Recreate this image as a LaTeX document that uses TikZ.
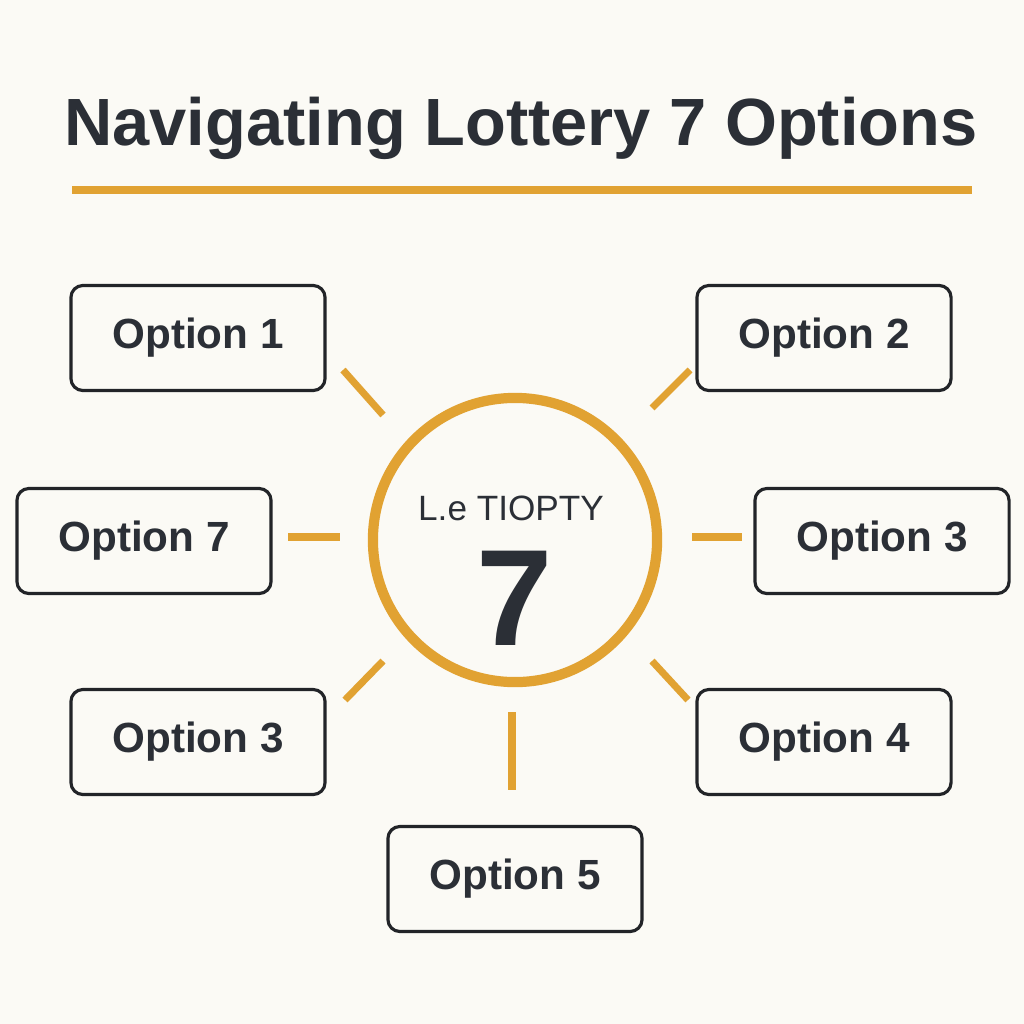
\documentclass[tikz,border=0pt]{standalone}
\usepackage{fontspec}
\setmainfont{Liberation Sans}
\definecolor{bg}{HTML}{FBFAF5}
\definecolor{ink}{HTML}{2B2F36}
\definecolor{gold}{HTML}{E1A232}
\definecolor{boxc}{HTML}{222428}
\begin{document}
\begin{tikzpicture}[x=0.01cm,y=-0.01cm,
  opt/.style={draw=boxc, line width=0.9pt, rounded corners=0.12cm,
    minimum width=2.54cm, minimum height=1.05cm, inner sep=0pt,
    text=ink, font=\fontsize{12}{14}\selectfont\bfseries},
  spoke/.style={draw=gold, line width=2pt},
  hub/.style={circle, draw=gold, line width=2.9pt, minimum size=2.84cm, inner sep=0pt}]
\useasboundingbox[fill=bg] (0,0) rectangle (1024,1024);

\node[anchor=base, text=ink, font=\fontsize{19}{22}\selectfont\bfseries] (title) at (521,145) {Navigating Lottery 7 Options};
\draw[draw=gold, line width=2.3pt] (72,190) coordinate (ul1) -- (972,190) coordinate (ul2);

\node[hub] (c) at (515,540) {};
\node[anchor=base, text=ink, font=\fontsize{10}{12}\selectfont] (ct) at (511,520) {L.e TIOPTY};
\node[anchor=base, text=ink, font=\fontsize{39}{44}\selectfont\bfseries] (seven) at (515,645) {7};

\node[opt] (o1) at (198,338) {Option 1};
\node[opt] (o2) at (824,338) {Option 2};
\node[opt] (o7) at (144,541) {Option 7};
\node[opt] (o3r) at (882,541) {Option 3};
\node[opt] (o3l) at (198,742) {Option 3};
\node[opt] (o4) at (824,742) {Option 4};
\node[opt] (o5) at (515,879) {Option 5};

\coordinate (a1) at (343,370); \coordinate (b1) at (383,415);
\coordinate (a2) at (690,370); \coordinate (b2) at (652,408);
\coordinate (a7) at (288,537); \coordinate (b7) at (340,537);
\coordinate (a3) at (692,537); \coordinate (b3) at (742,537);
\coordinate (a6) at (383,661); \coordinate (b6) at (345,700);
\coordinate (a4) at (652,661); \coordinate (b4) at (688,700);
\coordinate (a5) at (512,712); \coordinate (b5) at (512,790);
\foreach \i in {1,2,7,3,6,4,5} \draw[spoke] (a\i) -- (b\i);
\end{tikzpicture}
\end{document}
